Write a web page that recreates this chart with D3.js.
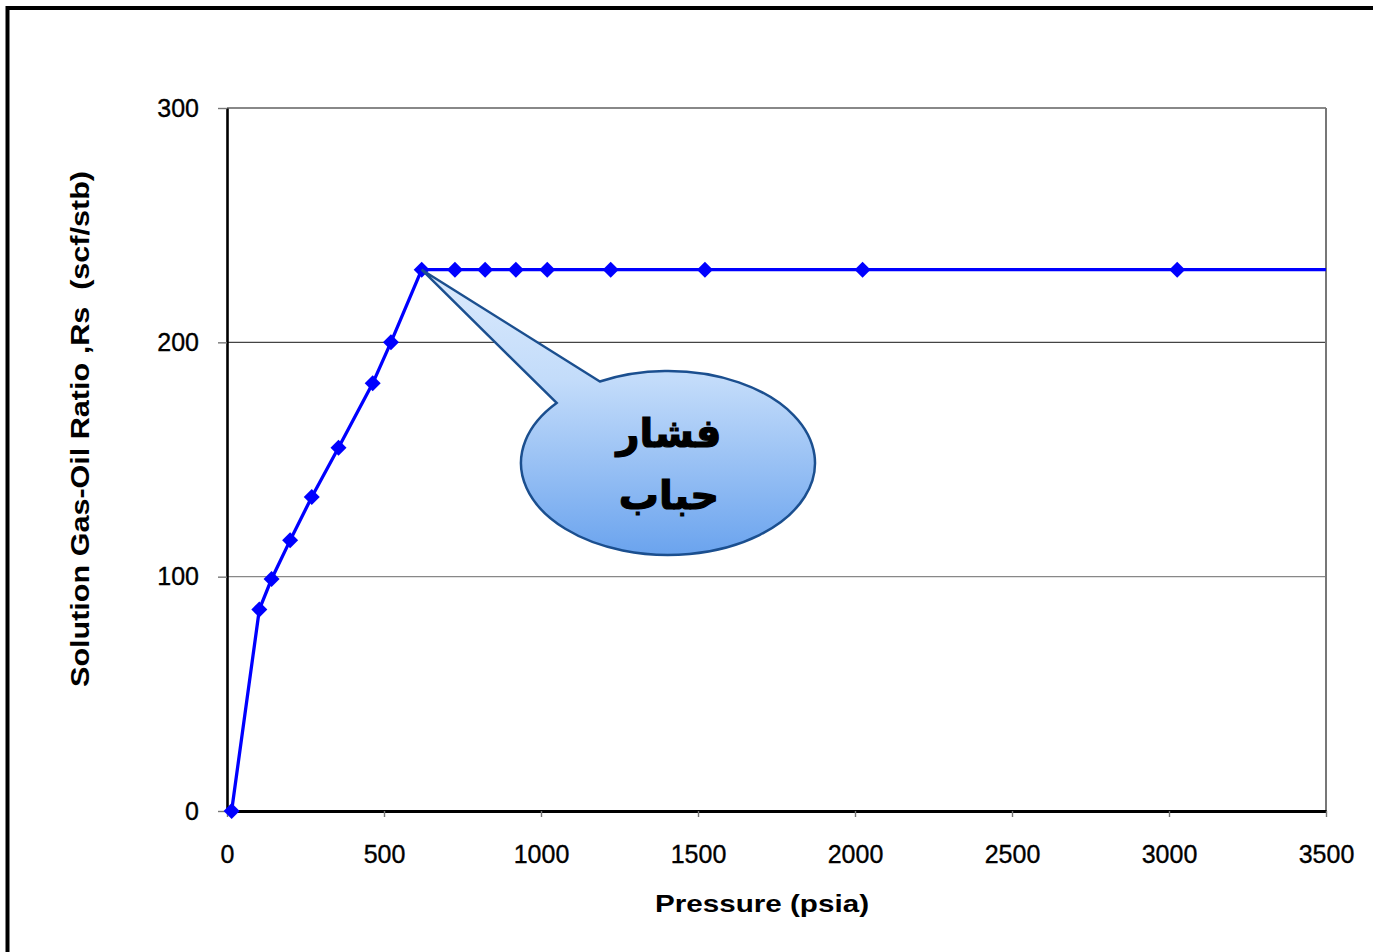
<!DOCTYPE html>
<html>
<head>
<meta charset="utf-8">
<script src="https://cdn.jsdelivr.net/npm/d3@7"></script>
<style>
  html, body { margin: 0; padding: 0; background: #fff; }
  svg { display: block; }
</style>
</head>
<body>
<svg id="chart" width="1373" height="952"></svg>
<script>
// ---- data ----
const pressure = [14.7, 103, 142, 201, 270, 355, 464, 522, 620, 726, 822, 920, 1020, 1222, 1522, 2024, 3026];
const rs       = [0, 86, 99, 115.5, 134, 155, 182.5, 200, 231, 231, 231, 231, 231, 231, 231, 231, 231];
const lineEndPressure = 3500;          // line continues flat to the axis end
const xTicks = [0, 500, 1000, 1500, 2000, 2500, 3000, 3500];
const yTicks = [0, 100, 200, 300];
const xTitle = "Pressure (psia)";
const yTitle = "Solution Gas-Oil Ratio ,Rs \u00a0(scf/stb)";
const calloutLines = ["فشار", "حباب"];
const bubbleIndex = 8;                 // bubble point marker index

// ---- layout ----
const svg = d3.select("#chart");
const L = 227, R = 1326, T = 108, B = 811;
const x = d3.scaleLinear().domain([0, 3500]).range([L, R]);
const y = d3.scaleLinear().domain([0, 300]).range([B, T]);

// outer frame
svg.append("rect").attr("x", 7.5).attr("y", 8).attr("width", 1400).attr("height", 1000)
  .attr("fill", "none").attr("stroke", "#000").attr("stroke-width", 4);

// gridlines
svg.append("g").selectAll("line").data(yTicks.filter(d => d > 0)).join("line")
  .attr("x1", L).attr("x2", R).attr("y1", d => y(d)).attr("y2", d => y(d))
  .attr("stroke", d => d === 200 ? "#444" : "#888").attr("stroke-width", d => d === 300 ? 2 : 1.4);
// right border
svg.append("line").attr("x1", R).attr("x2", R).attr("y1", T).attr("y2", B)
  .attr("stroke", "#777").attr("stroke-width", 2);

// axes
const fontTick = "'Liberation Sans', Arial, sans-serif";
const yAxis = svg.append("g").attr("transform", `translate(${L},0)`)
  .call(d3.axisLeft(y).tickValues(yTicks).tickSize(9).tickSizeOuter(0).tickPadding(19).tickFormat(d3.format("d")));
yAxis.select(".domain").attr("stroke", "#000").attr("stroke-width", 2.6);
yAxis.selectAll(".tick line").attr("stroke", "#777").attr("stroke-width", 1.4);
yAxis.selectAll(".tick text").attr("font-family", fontTick).attr("font-size", 25).attr("fill", "#000")
  .attr("stroke", "#000").attr("stroke-width", 0.35);

const xAxis = svg.append("g").attr("transform", `translate(0,${B})`)
  .call(d3.axisBottom(x).tickValues(xTicks).tickSize(6).tickSizeOuter(0).tickPadding(28).tickFormat(d3.format("d")));
xAxis.select(".domain").attr("stroke", "#000").attr("stroke-width", 3);
xAxis.selectAll(".tick line").attr("stroke", "#777").attr("stroke-width", 1.4);
xAxis.selectAll(".tick text").attr("font-family", fontTick).attr("font-size", 25).attr("fill", "#000")
  .attr("stroke", "#000").attr("stroke-width", 0.35);

// axis titles
svg.append("text").attr("x", 762).attr("y", 912).attr("text-anchor", "middle")
  .attr("font-family", fontTick).attr("font-weight", "bold").attr("font-size", 24)
  .attr("textLength", 214).attr("lengthAdjust", "spacingAndGlyphs")
  .text(xTitle);
svg.append("text").attr("transform", "translate(89,429) rotate(-90)").attr("text-anchor", "middle")
  .attr("font-family", fontTick).attr("font-weight", "bold").attr("font-size", 26)
  .attr("textLength", 516).attr("lengthAdjust", "spacingAndGlyphs")
  .text(yTitle);

// series line
const pts = pressure.map((p, i) => [p, rs[i]]);
const linePts = pts.concat([[lineEndPressure, rs[rs.length - 1]]]);
svg.append("path").datum(linePts)
  .attr("d", d3.line().x(d => x(d[0])).y(d => y(d[1])))
  .attr("fill", "none").attr("stroke", "#0000ff").attr("stroke-width", 3.3);

// markers
svg.append("g").selectAll("path").data(pts).join("path")
  .attr("transform", d => `translate(${x(d[0])},${y(d[1])})`)
  .attr("d", "M0,-8L8,0L0,8L-8,0Z")
  .attr("fill", "#0000ff");

// callout
const defs = svg.append("defs");
const grad = defs.append("linearGradient").attr("id", "cg")
  .attr("gradientUnits", "userSpaceOnUse").attr("x1", 0).attr("x2", 0).attr("y1", 271).attr("y2", 556);
grad.append("stop").attr("offset", "0").attr("stop-color", "#dbeafd");
grad.append("stop").attr("offset", "0.38").attr("stop-color", "#c3dcfa");
grad.append("stop").attr("offset", "1").attr("stop-color", "#6aa3ee");

const tipX = x(pressure[bubbleIndex]), tipY = y(rs[bubbleIndex]);
const cx = 668, cy = 463, rx = 147, ry = 92;
const a1 = Math.atan2(-0.884, -0.4626), a2 = Math.atan2(-0.652, -0.757);
const p1 = [cx + rx * Math.cos(a1), cy + ry * Math.sin(a1)];
const p2 = [cx + rx * Math.cos(a2), cy + ry * Math.sin(a2)];
svg.append("path")
  .attr("d", `M${p1[0]},${p1[1]} L${tipX},${tipY} L${p2[0]},${p2[1]} A${rx},${ry} 0 1 0 ${p1[0]},${p1[1]} Z`)
  .attr("fill", "url(#cg)").attr("stroke", "#1b4f8f").attr("stroke-width", 2.5).attr("stroke-linejoin", "miter");

svg.append("g").selectAll("text").data(calloutLines).join("text")
  .attr("x", 669).attr("y", (d, i) => 447 + i * 62)
  .attr("text-anchor", "middle").attr("direction", "rtl")
  .attr("font-family", "'DejaVu Sans', 'Noto Sans', sans-serif").attr("font-weight", "bold").attr("font-size", 40)
  .attr("fill", "#000").attr("stroke", "#000").attr("stroke-width", 1.2)
  .text(d => d);
</script>
</body>
</html>
